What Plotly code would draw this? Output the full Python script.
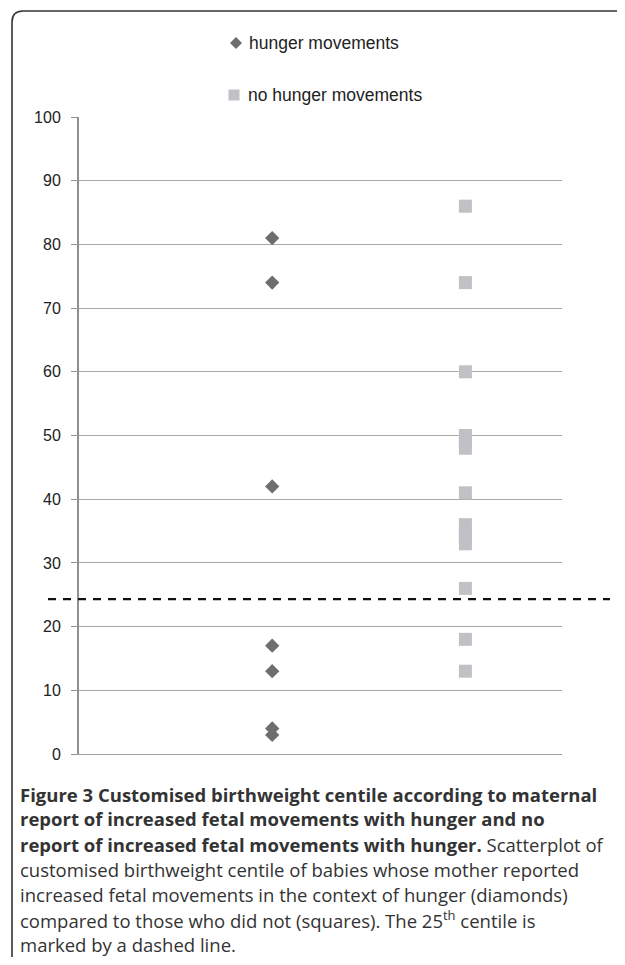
import plotly.graph_objects as go

# ---- data ----
hunger_centiles = [81, 74, 42, 17, 13, 4, 3]
no_hunger_centiles = [86, 74, 60, 50, 49, 48, 41, 36, 35, 34, 33, 26, 18, 13]
group_x = [1, 2]
legend_labels = ["hunger movements", "no hunger movements"]
y_ticks = [0, 10, 20, 30, 40, 50, 60, 70, 80, 90, 100]
reference_centile = 24.3

caption_lines = [
    "<b>Figure 3 Customised birthweight centile according to maternal</b>",
    "<b>report of increased fetal movements with hunger and no</b>",
    "<b>report of increased fetal movements with hunger.</b> Scatterplot of",
    "customised birthweight centile of babies whose mother reported",
    "increased fetal movements in the context of hunger (diamonds)",
    "compared to those who did not (squares). The 25<sup>th</sup> centile is",
    "marked by a dashed line.",
]

# ---- layout geometry (screen pixels; page body has an 8px margin) ----
OFF = 8
SW, SH = 625, 965
W, H = SW - 2 * OFF, SH - 2 * OFF
L, R, T, B = 79, 562, 117, 754          # plot area in screen pixels
PW, PH = R - L, B - T


def px(x):
    return (x - L) / PW


def py(y):
    return (B - y) / PH


DIAMOND = "#6e6e6e"
SQUARE = "#c0c0c5"

fig = go.Figure()
fig.add_trace(go.Scatter(
    x=[group_x[0]] * len(hunger_centiles), y=hunger_centiles, mode="markers",
    marker=dict(symbol="diamond", size=11, color=DIAMOND),
    name=legend_labels[0], showlegend=False, cliponaxis=False))
fig.add_trace(go.Scatter(
    x=[group_x[1]] * len(no_hunger_centiles), y=no_hunger_centiles, mode="markers",
    marker=dict(symbol="square", size=13, color=SQUARE),
    name=legend_labels[1], showlegend=False, cliponaxis=False))

annotations = []
for lab, xx, yy in zip(legend_labels, [247, 246], [43, 95]):
    annotations.append(dict(
        text=lab, x=px(xx), y=py(yy), xref="paper", yref="paper",
        xanchor="left", yanchor="middle", showarrow=False,
        font=dict(family="Liberation Sans, Arial", size=17.5, color="#222222")))

cap_y0, cap_dy, cap_x = 794, 25.0, 18
for i, line in enumerate(caption_lines):
    annotations.append(dict(
        text=line, x=px(cap_x), y=py(cap_y0 + i * cap_dy), xref="paper", yref="paper",
        xanchor="left", yanchor="middle", showarrow=False, align="left",
        font=dict(family="Open Sans", size=18.5, color="#333333")))


def diamond_path(cx, cy, r):
    return (f"M {px(cx - r)},{py(cy)} L {px(cx)},{py(cy - r)} "
            f"L {px(cx + r)},{py(cy)} L {px(cx)},{py(cy + r)} Z")


def square_path(cx, cy, r):
    return (f"M {px(cx - r)},{py(cy - r)} L {px(cx + r)},{py(cy - r)} "
            f"L {px(cx + r)},{py(cy + r)} L {px(cx - r)},{py(cy + r)} Z")


shapes = [
    dict(type="line", xref="paper", yref="y", x0=px(48), x1=px(610),
         y0=reference_centile, y1=reference_centile,
         line=dict(color="#111111", width=2.2, dash="8px,7px")),
    dict(type="path", xref="paper", yref="paper",
         path=(f"M {px(12)},{py(SH + 20)} L {px(12)},{py(22)} "
               f"Q {px(12)},{py(11)} {px(23)},{py(11)} L {px(SW + 20)},{py(11)}"),
         line=dict(color="#333333", width=1.6)),
    dict(type="path", xref="paper", yref="paper", path=diamond_path(236, 43, 6),
         fillcolor=DIAMOND, line=dict(width=0)),
    dict(type="path", xref="paper", yref="paper", path=square_path(234, 95, 5.5),
         fillcolor=SQUARE, line=dict(width=0)),
]

fig.update_layout(
    width=W, height=H,
    margin=dict(l=L - OFF, r=SW - OFF - R, t=T - OFF, b=SH - OFF - B, pad=0),
    paper_bgcolor="white", plot_bgcolor="white",
    showlegend=False,
    xaxis=dict(range=[0, 2.5], showgrid=False, zeroline=False, showticklabels=False,
               ticks="", showline=True, linecolor="#a0a0a0", linewidth=1),
    yaxis=dict(range=[0, 100], tickvals=y_ticks, ticktext=[str(v) for v in y_ticks],
               showgrid=True, gridcolor="#a8a8a8", gridwidth=1, zeroline=False,
               showline=True, linecolor="#909090", linewidth=2,
               ticks="outside", ticklen=6, tickcolor="#909090", tickwidth=1,
               ticklabelstandoff=7,
               tickfont=dict(family="Liberation Sans, Arial", size=16, color="#222222")),
    annotations=annotations,
    shapes=shapes,
)

fig.write_html("out.html")
